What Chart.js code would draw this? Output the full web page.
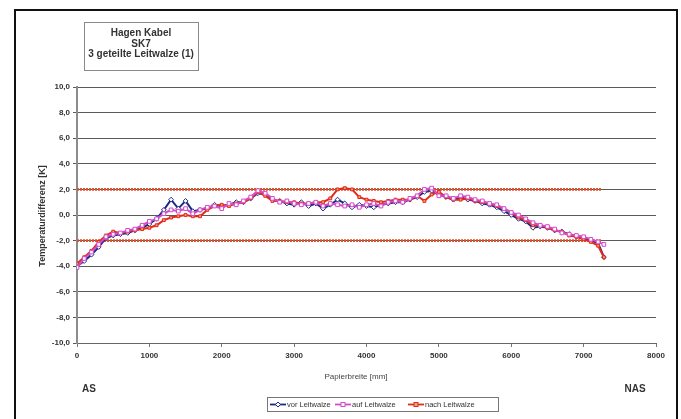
<!DOCTYPE html>
<html>
<head>
<meta charset="utf-8">
<script src="https://cdn.jsdelivr.net/npm/chart.js@4.4.1/dist/chart.umd.min.js"></script>
<style>
  html, body { margin: 0; padding: 0; background: #fff; }
  #wrap { width: 681px; height: 419px; position: relative; }
</style>
</head>
<body>
<div id="wrap"><canvas id="c" width="681" height="419"></canvas></div>
<script>
// Measurement positions across the paper width [mm]
const positions = [0,100,200,300,400,500,600,700,800,900,1000,1100,1200,1300,1400,1500,1600,1700,1800,1900,
  2000,2100,2200,2300,2400,2500,2600,2700,2800,2900,3000,3100,3200,3300,3400,3500,3600,3700,3800,3900,
  4000,4100,4200,4300,4400,4500,4600,4700,4800,4900,5000,5100,5200,5300,5400,5500,5600,5700,5800,5900,
  6000,6100,6200,6300,6400,6500,6600,6700,6800,6900,7000,7100,7200,7280];

// Temperature difference [K] before, on and after the guide roll
const vorLeitwalze = [-4.0,-3.6,-3.1,-2.5,-1.8,-1.6,-1.5,-1.4,-1.2,-1.0,-0.7,-0.3,0.4,1.2,0.5,1.1,0.3,0.4,0.5,0.8,
  0.7,0.8,1.0,1.0,1.3,1.7,1.6,1.2,1.1,0.9,0.8,1.0,0.7,0.9,0.5,0.8,1.2,0.9,0.6,0.8,
  0.7,0.6,0.8,0.9,1.0,1.0,1.2,1.4,1.8,1.9,1.6,1.4,1.2,1.4,1.2,1.1,0.9,0.8,0.6,0.3,
  0.0,-0.3,-0.5,-1.0,-0.9,-1.0,-1.2,-1.3,-1.5,-1.7,-1.8,-2.0,-2.2,-3.3];
const aufLeitwalze = [-4.1,-3.4,-2.9,-2.3,-1.7,-1.5,-1.4,-1.2,-1.1,-0.8,-0.5,-0.3,0.1,0.4,0.3,0.5,0.1,0.4,0.6,0.7,
  0.5,0.9,0.8,1.1,1.4,1.9,1.7,1.3,1.0,1.1,0.9,0.8,0.9,1.0,0.7,0.9,0.8,0.7,0.8,0.6,
  0.8,0.9,0.7,1.0,1.1,1.0,1.3,1.5,2.0,2.1,1.5,1.5,1.3,1.5,1.4,1.2,1.1,0.9,0.8,0.5,
  0.2,0.0,-0.3,-0.6,-0.8,-0.9,-1.1,-1.4,-1.5,-1.6,-1.7,-1.9,-2.1,-2.3];
const nachLeitwalze = [-3.8,-3.3,-2.8,-2.1,-1.6,-1.3,-1.4,-1.3,-1.2,-1.1,-1.0,-0.8,-0.4,-0.2,-0.1,0.0,-0.1,-0.1,0.4,0.7,
  0.8,0.7,0.9,1.0,1.3,1.8,1.5,1.1,1.1,1.0,1.0,0.9,0.9,1.0,1.0,1.3,2.0,2.1,2.0,1.4,
  1.2,1.1,1.0,1.1,1.2,1.2,1.2,1.5,1.1,1.6,1.8,1.4,1.2,1.2,1.3,1.1,1.0,0.9,0.7,0.5,
  0.2,-0.2,-0.4,-0.8,-0.8,-1.0,-1.2,-1.3,-1.6,-1.7,-1.9,-2.1,-2.4,-3.3];

// Tolerance band +/- 2 K over the measured width
const limitX = [0, 7250];
const upperLimit = [2.0, 2.0];
const lowerLimit = [-2.0, -2.0];

const titleLines = ['Hagen Kabel', 'SK7', '3 geteilte Leitwalze (1)'];
const seriesNames = ['vor Leitwalze', 'auf Leitwalze', 'nach Leitwalze'];

const BLUE = '#1c2c86', MAGENTA = '#d44ac8', RED = '#e22a1c', LIMIT = '#e0502a';
const FONT = '"Liberation Sans", Arial, sans-serif';

const pts = (xs, ys) => xs.map((x, i) => ({ x: x, y: ys[i] }));

const series = [
  { label: seriesNames[0], data: pts(positions, vorLeitwalze), borderColor: BLUE, pointStyle: 'rectRot',
    pointRadius: 2.4, pointBackgroundColor: '#fff', pointBorderColor: BLUE, order: 3 },
  { label: seriesNames[1], data: pts(positions, aufLeitwalze), borderColor: MAGENTA, pointStyle: 'rect',
    pointRadius: 2.6, pointBackgroundColor: '#fff', pointBorderColor: MAGENTA, order: 1 },
  { label: seriesNames[2], data: pts(positions, nachLeitwalze), borderColor: RED, pointStyle: 'rect',
    pointRadius: 2, pointBackgroundColor: '#f2a070', pointBorderColor: RED, order: 2 }
].map(d => Object.assign({ showLine: true, borderWidth: 2, pointBorderWidth: 1, tension: 0 }, d));

const limits = [upperLimit, lowerLimit].map((ys, i) => ({
  label: 'limit' + i, data: pts(limitX, ys), showLine: true, borderColor: LIMIT, borderWidth: 2.6,
  borderDash: [2, 1], pointRadius: 0, order: 4
}));

const frame = {
  id: 'frame',
  beforeDraw(chart) {
    const c = chart.ctx;
    c.save();
    c.fillStyle = '#fff';
    c.fillRect(0, 0, chart.width, chart.height);
    c.strokeStyle = '#111';
    c.lineWidth = 2;
    c.strokeRect(15, 10, 662, 420);
    c.restore();
  },
  afterDraw(chart) {
    const c = chart.ctx;
    c.save();
    // title box
    c.fillStyle = '#fff';
    c.fillRect(84, 22, 114, 48);
    c.strokeStyle = '#8a8a8a';
    c.lineWidth = 1;
    c.strokeRect(84.5, 22.5, 114, 48);
    c.fillStyle = '#333';
    c.textAlign = 'center';
    c.textBaseline = 'middle';
    c.font = 'bold 10px ' + FONT;
    c.fillText(titleLines[0], 141, 33);
    c.fillText(titleLines[1], 141, 44);
    c.fillText(titleLines[2], 141, 54, 112);

    // axis titles
    c.font = 'bold 9px ' + FONT;
    c.save();
    c.translate(43, 216);
    c.rotate(-Math.PI / 2);
    c.fillText('Temperaturdifferenz [K]', 0, 0);
    c.restore();
    c.font = '8px ' + FONT;
    c.fillStyle = '#444';
    c.fillText('Papierbreite [mm]', 356, 377);

    // side markers
    c.fillStyle = '#333';
    c.font = 'bold 10px ' + FONT;
    c.fillText('AS', 89, 389);
    c.fillText('NAS', 635, 389);

    // legend
    c.fillStyle = '#fff';
    c.fillRect(267, 397, 231, 14);
    c.strokeStyle = '#777';
    c.strokeRect(267.5, 397.5, 231, 14);
    const entries = [
      { x: 270, color: BLUE, fill: '#fff', style: 'rectRot', name: seriesNames[0] },
      { x: 335, color: MAGENTA, fill: '#fff', style: 'rect', name: seriesNames[1] },
      { x: 408, color: RED, fill: '#f2a070', style: 'rect', name: seriesNames[2] }
    ];
    c.font = '7.5px ' + FONT;
    c.textAlign = 'left';
    entries.forEach(e => {
      const y = 404.5;
      c.strokeStyle = e.color;
      c.lineWidth = 1.8;
      c.beginPath();
      c.moveTo(e.x, y);
      c.lineTo(e.x + 16, y);
      c.stroke();
      c.fillStyle = e.fill;
      c.lineWidth = 1;
      if (e.style === 'rect') {
        c.fillRect(e.x + 6, y - 2, 4, 4);
        c.strokeRect(e.x + 6, y - 2, 4, 4);
      } else {
        c.beginPath();
        c.moveTo(e.x + 8, y - 2.5); c.lineTo(e.x + 10.5, y); c.lineTo(e.x + 8, y + 2.5); c.lineTo(e.x + 5.5, y);
        c.closePath(); c.fill(); c.stroke();
      }
      c.fillStyle = '#333';
      c.fillText(e.name, e.x + 17, y + 0.5);
    });
    c.restore();
  }
};

new Chart(document.getElementById('c'), {
  type: 'scatter',
  data: { datasets: series.concat(limits) },
  options: {
    responsive: false,
    animation: false,
    layout: { padding: { left: 20, top: 87, right: 25, bottom: 0 } },
    plugins: { legend: { display: false }, tooltip: { enabled: false }, title: { display: false } },
    scales: {
      x: {
        type: 'linear', min: 0, max: 8000,
        ticks: { stepSize: 1000, color: '#333', font: { family: FONT, size: 8, weight: 'bold' }, padding: 4,
                 maxRotation: 0, callback: v => String(v) },
        grid: { drawOnChartArea: false, drawTicks: true, tickLength: 4, color: '#777' },
        border: { display: true, color: '#666', width: 1 },
        afterFit(scale) { scale.height = 76; }
      },
      y: {
        type: 'linear', min: -10, max: 10,
        ticks: { stepSize: 2, color: '#333', font: { family: FONT, size: 8, weight: 'bold' }, padding: 3,
                 callback: v => v.toFixed(1).replace('.', ',') },
        grid: { color: '#5a5a5a', lineWidth: 1, tickLength: 4, drawTicks: true },
        border: { display: true, color: '#8c8c8c', width: 2 },
        afterFit(scale) { scale.width = 57; }
      }
    }
  },
  plugins: [frame]
});
</script>
</body>
</html>
